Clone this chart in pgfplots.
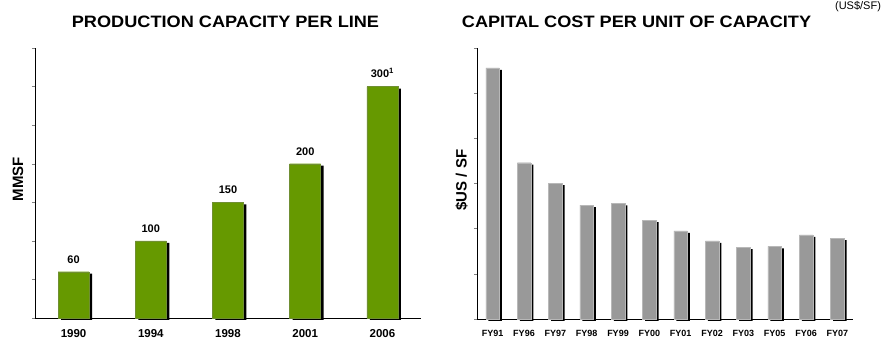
\documentclass[border=0pt]{standalone}
\usepackage{pgfplots}
\pgfplotsset{compat=1.18}
\usepackage{fontspec}
\setmainfont{Liberation Sans}
\newfontfamily\titlefont[FakeStretch=1.1]{Liberation Sans}
\definecolor{bargreen}{HTML}{669900}
\definecolor{bargray}{HTML}{999999}

\begin{document}
\begin{tikzpicture}[x=1pt,y=1pt]
\path[use as bounding box] (0,0) rectangle (889,347);
% Left chart
\begin{axis}[at={(35pt,29pt)}, anchor=south west, scale only axis,
  width=386pt, height=270pt, xmin=-0.5, xmax=4.5, ymin=0, ymax=350,
  axis x line=bottom, axis y line=left, axis line style={-, line width=0.9pt},
  ytick={0,50,...,350}, yticklabels={}, ytick style={gray, thin},
  tick align=outside, major tick length=3pt,
  xtick={0,...,4}, xticklabels={1990,1994,1998,2001,2006}, xtick style={draw=none},
  xticklabel style={font=\bfseries\fontsize{11.5}{12}\selectfont, yshift=-5pt},
  clip=false]
\addplot[ybar, bar width=31pt, bar shift=3pt, fill=black, draw=none, yshift=-2pt]
  coordinates {(0,60) (1,100) (2,150) (3,200) (4,300)};
\addplot[ybar, bar width=31pt, bar shift=0pt, fill=bargreen, draw=bargreen!60!gray,
  nodes near coords, point meta=explicit symbolic,
  every node near coord/.style={font=\bfseries\fontsize{11}{12}\selectfont, yshift=5pt, text=black}]
  coordinates {(0,60)[60] (1,100)[100] (2,150)[150] (3,200)[200] (4,300)[300\textsuperscript{1}]};
\end{axis}
% Right chart
\begin{axis}[at={(477pt,28pt)}, anchor=south west, scale only axis,
  width=376pt, height=271pt, xmin=-0.5, xmax=11.5, ymin=0, ymax=6,
  axis x line=bottom, axis y line=left, axis line style={-, line width=0.9pt},
  ytick={0,1,...,6}, yticklabels={}, ytick style={gray, thin},
  tick align=outside, major tick length=3pt,
  xtick={0,...,11}, xticklabels={FY91,FY96,FY97,FY98,FY99,FY00,FY01,FY02,FY03,FY05,FY06,FY07},
  xtick style={draw=none},
  xticklabel style={font=\bfseries\fontsize{9}{10}\selectfont, yshift=-5pt},
  clip=false]
\addplot[ybar, bar width=13.5pt, bar shift=2.5pt, fill=black, draw=none, yshift=-2pt]
  coordinates {(0,5.56) (1,3.46) (2,3.01) (3,2.52) (4,2.56) (5,2.19) (6,1.95) (7,1.73) (8,1.59) (9,1.61) (10,1.86) (11,1.79)};
\addplot[ybar, bar width=13.5pt, bar shift=0pt, fill=bargray, draw=bargray!70!white]
  coordinates {(0,5.56) (1,3.46) (2,3.01) (3,2.52) (4,2.56) (5,2.19) (6,1.95) (7,1.73) (8,1.59) (9,1.61) (10,1.86) (11,1.79)};
\end{axis}
% Titles and labels
\node[anchor=base, font=\titlefont\bfseries\fontsize{16.5}{18}\selectfont] at (225.5,319) {PRODUCTION CAPACITY PER LINE};
\node[anchor=base, font=\titlefont\bfseries\fontsize{16.5}{18}\selectfont] at (636.5,319) {CAPITAL COST PER UNIT OF CAPACITY};
\node[font=\fontsize{11}{12}\selectfont] at (858,340.5) {(US\$/SF)};
\node[rotate=90, font=\bfseries\fontsize{15}{16}\selectfont] at (18,168) {MMSF};
\node[rotate=90, font=\bfseries\fontsize{15}{16}\selectfont] at (461.5,167) {\$US / SF};
\end{tikzpicture}
\end{document}
